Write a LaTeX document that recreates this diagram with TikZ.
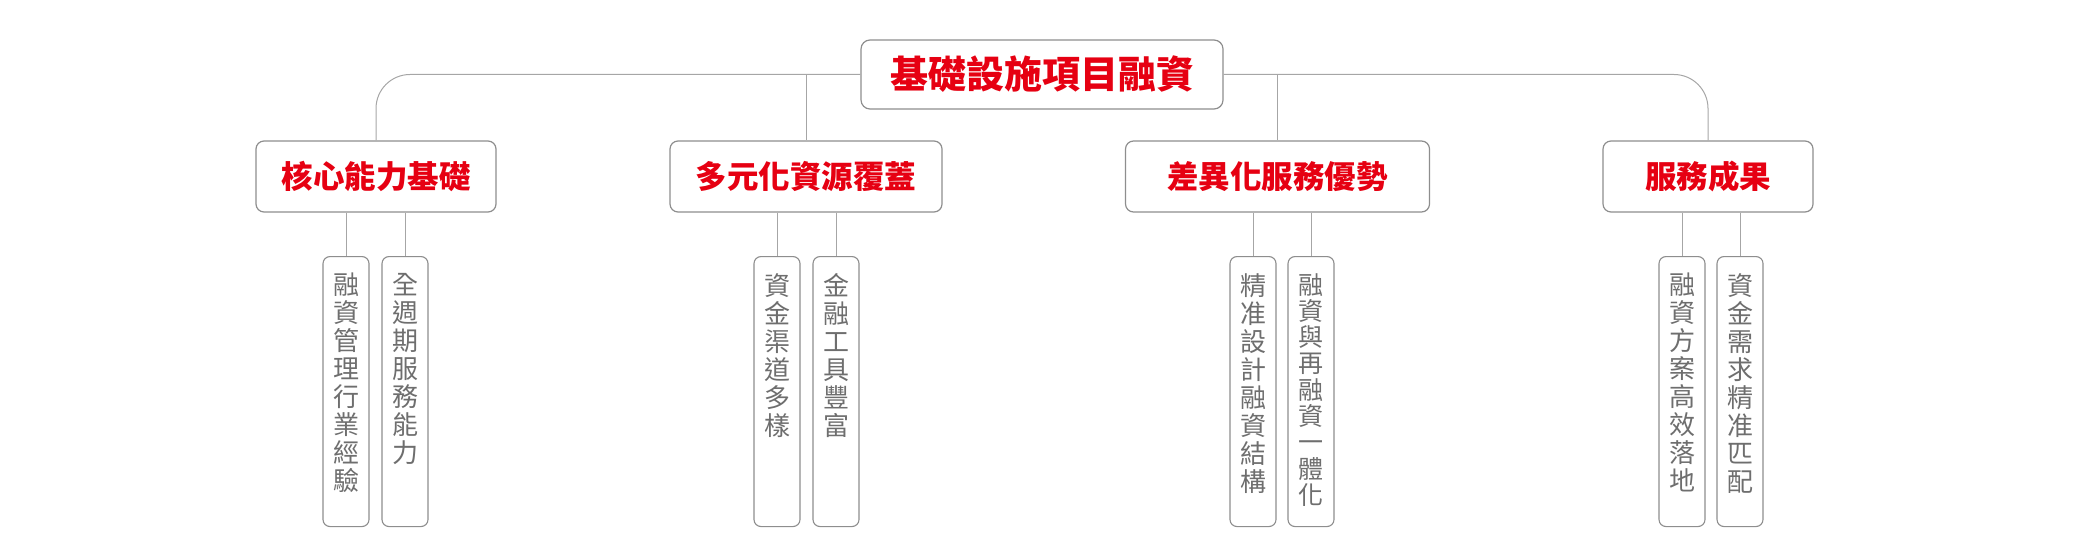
\documentclass[tikz,border=0pt]{standalone}
\usepackage{fontspec}
\setmainfont{Noto Sans CJK TC}
\newfontfamily\heavycjk{Noto Sans CJK TC Black}
\usepackage{xcolor}
\usetikzlibrary{positioning}

\definecolor{titlered}{HTML}{E60012}
\definecolor{leafgray}{HTML}{6E6E6E}
\definecolor{boxgray}{HTML}{8E8E8E}
\definecolor{linegray}{HTML}{A6A6A6}

\tikzset{
  rootbox/.style={draw=boxgray, line width=1.2pt, rounded corners=9pt, fill=white,
    minimum width=362pt, minimum height=69pt, inner sep=0pt,
    font=\heavycjk\fontsize{38}{40}\selectfont, text=titlered},
  catbox/.style={draw=boxgray, line width=1.2pt, rounded corners=8pt, fill=white,
    minimum height=71pt, inner sep=0pt,
    font=\heavycjk\fontsize{31.5}{33}\selectfont, text=titlered},
  leafbox/.style={draw=boxgray, line width=1.1pt, rounded corners=7pt, fill=white,
    anchor=north, minimum width=46pt, minimum height=270pt, inner sep=0pt},
  leaftext/.style={anchor=north, inner sep=0pt, align=center, text=leafgray,
    font=\fontsize{26}{28}\selectfont},
  link/.style={draw=linegray, line width=1pt}
}

\begin{document}
\begin{tikzpicture}[x=1pt, y=-1pt]
  \useasboundingbox (0,0) rectangle (2084,556);

  \node[rootbox] (root) at (1042, 74.5) {基礎設施項目融資};

  \node[catbox, minimum width=240pt] (core) at (376, 176.5) {核心能力基礎};
  \node[catbox, minimum width=272pt] (multi) at (806, 176.5) {多元化資源覆蓋};
  \node[catbox, minimum width=304pt] (diff) at (1277.5, 176.5) {差異化服務優勢};
  \node[catbox, minimum width=210pt] (result) at (1708, 176.5) {服務成果};

  % leaves
  \node[leafbox] (core1) at (346, 256) {};
  \node[leafbox] (core2) at (405, 256) {};
  \node[leafbox] (multi1) at (777, 256) {};
  \node[leafbox] (multi2) at (836, 256) {};
  \node[leafbox] (diff1) at (1253, 256) {};
  \node[leafbox] (diff2) at (1311, 256) {};
  \node[leafbox] (result1) at (1682, 256) {};
  \node[leafbox] (result2) at (1740, 256) {};

  \node[leaftext] (core1t) at ([yshift=-17pt]core1.north) {融\\資\\管\\理\\行\\業\\經\\驗};
  \node[leaftext] (core2t) at ([yshift=-17pt]core2.north) {全\\週\\期\\服\\務\\能\\力};
  \node[leaftext] (multi1t) at ([yshift=-17pt]multi1.north) {資\\金\\渠\\道\\多\\樣};
  \node[leaftext] (multi2t) at ([yshift=-17pt]multi2.north) {金\\融\\工\\具\\豐\\富};
  \node[leaftext] (diff1t) at ([yshift=-17pt]diff1.north) {精\\准\\設\\計\\融\\資\\結\\構};
  \node[leaftext, font=\fontsize{25}{26.3}\selectfont] (diff2t) at ([yshift=-17pt]diff2.north) {融\\資\\與\\再\\融\\資\\一\\體\\化};
  \node[leaftext] (result1t) at ([yshift=-17pt]result1.north) {融\\資\\方\\案\\高\\效\\落\\地};
  \node[leaftext] (result2t) at ([yshift=-17pt]result2.north) {資\\金\\需\\求\\精\\准\\匹\\配};

  % connectors
  \draw[link, rounded corners=34pt] (root.west) -| (core.north);
  \draw[link, rounded corners=34pt] (root.east) -| (result.north);
  \draw[link] (multi.north |- root.west) -- (multi.north);
  \draw[link] (diff.north |- root.east) -- (diff.north);
  \foreach \c/\l in {core/core1, core/core2, multi/multi1, multi/multi2,
                     diff/diff1, diff/diff2, result/result1, result/result2}
    \draw[link] (\l.north |- \c.south) -- (\l.north);
\end{tikzpicture}
\end{document}
